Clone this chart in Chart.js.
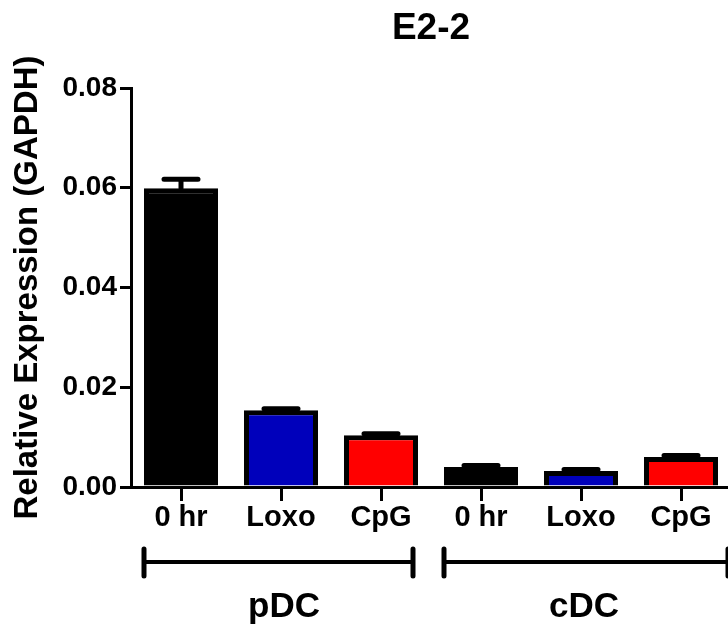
<!DOCTYPE html>
<html>
<head>
<meta charset="utf-8">
<script src="https://cdn.jsdelivr.net/npm/chart.js@4.4.0/dist/chart.umd.min.js"></script>
<style>
  html, body { margin: 0; padding: 0; background: #fff; overflow: hidden; }
  #wrap { width: 728px; height: 627px; overflow: hidden; }
  canvas { display: block; }
</style>
</head>
<body>
<div id="wrap"><canvas id="chart" width="740" height="627" style="width:740px;height:627px"></canvas></div>
<script>
// values
const cellLabels = ['0 hr', 'Loxo', 'CpG', '0 hr', 'Loxo', 'CpG'];
const expression = [0.0599, 0.0154, 0.0104, 0.0040, 0.0032, 0.0060];
const sem = [0.0018, 0.0003, 0.0003, 0.0003, 0.0003, 0.0003];
const groups = ['pDC', 'cDC'];
const groupSize = 3;
const yTicks = [0, 0.02, 0.04, 0.06, 0.08];
const barColors = ['#000000', '#0000bb', '#ff0000', '#000000', '#0000bb', '#ff0000'];

const FONT = "'Liberation Sans', Arial, sans-serif";

// error bars (upper half only, like Prism)
const errorBars = {
  id: 'errorBars',
  afterDatasetsDraw(chart) {
    const ctx = chart.ctx;
    const y = chart.scales.y;
    const meta = chart.getDatasetMeta(0);
    ctx.save();
    ctx.strokeStyle = '#000';
    ctx.lineWidth = 5;
    ctx.lineCap = 'round';
    meta.data.forEach((bar, i) => {
      const top = y.getPixelForValue(expression[i] + sem[i]);
      const base = y.getPixelForValue(expression[i]);
      ctx.beginPath();
      ctx.moveTo(bar.x, base);
      ctx.lineTo(bar.x, top);
      ctx.moveTo(bar.x - 17, top);
      ctx.lineTo(bar.x + 17, top);
      ctx.stroke();
    });
    ctx.restore();
  }
};

// title, group brackets and group names
const decorations = {
  id: 'decorations',
  afterDraw(chart) {
    const ctx = chart.ctx;
    const x = chart.scales.x;
    const area = chart.chartArea;
    ctx.save();
    ctx.fillStyle = '#000';
    ctx.textAlign = 'center';
    ctx.textBaseline = 'alphabetic';
    ctx.font = 'bold 37px ' + FONT;
    ctx.fillText('E2-2', (area.left + area.right) / 2, 39);

    ctx.strokeStyle = '#000';
    groups.forEach((name, g) => {
      const first = g * groupSize, last = first + groupSize - 1;
      const left = x.getPixelForValue(first) - 37;
      const right = g === groups.length - 1 ? area.right - 3 : x.getPixelForValue(last) + 32;
      const ly = 562;
      ctx.lineWidth = 4;
      ctx.lineCap = 'butt';
      ctx.beginPath();
      ctx.moveTo(left, ly);
      ctx.lineTo(right, ly);
      ctx.stroke();
      ctx.lineWidth = 5;
      ctx.lineCap = 'round';
      ctx.beginPath();
      ctx.moveTo(left, ly - 13);
      ctx.lineTo(left, ly + 14);
      ctx.moveTo(right, ly - 13);
      ctx.lineTo(right, ly + 14);
      ctx.stroke();

      ctx.font = 'bold 35px ' + FONT;
      ctx.fillText(name, x.getPixelForValue(first + 1) + 3, 617);
    });
    ctx.restore();
  }
};

new Chart(document.getElementById('chart'), {
  type: 'bar',
  data: {
    labels: cellLabels,
    datasets: [{
      data: expression,
      backgroundColor: barColors,
      borderColor: '#000',
      borderWidth: 5,
      borderRadius: 0,
      borderSkipped: 'start',
      barPercentage: 0.74,
      categoryPercentage: 1
    }]
  },
  options: {
    responsive: false,
    animation: false,
    layout: { padding: { top: 88, right: 9, bottom: 0, left: 0 } },
    plugins: {
      legend: { display: false },
      tooltip: { enabled: false }
    },
    scales: {
      x: {
        afterFit(scale) { scale.height = 140; },
        grid: { display: true, offset: false, drawOnChartArea: false, drawTicks: true, tickLength: 14, lineWidth: 3, color: '#000' },
        border: { display: true, width: 3, color: '#000' },
        ticks: { color: '#000', padding: 0, font: { family: FONT, size: 29, weight: 'bold' } }
      },
      y: {
        min: 0,
        max: 0.08,
        afterFit(scale) { scale.width = 131; },
        afterBuildTicks(scale) { scale.ticks = yTicks.map(v => ({ value: v })); },
        grid: { display: true, drawOnChartArea: false, drawTicks: true, tickLength: 11, lineWidth: 3, color: '#000' },
        border: { display: true, width: 3, color: '#000' },
        ticks: {
          color: '#000',
          padding: 3,
          font: { family: FONT, size: 28, weight: 'bold' },
          callback: v => Number(v).toFixed(2)
        },
        title: {
          display: true,
          text: 'Relative Expression (GAPDH)',
          color: '#000',
          font: { family: FONT, size: 33, weight: 'bold' },
          padding: { top: 8, bottom: 0 }
        }
      }
    }
  },
  plugins: [errorBars, decorations]
});
</script>
</body>
</html>
